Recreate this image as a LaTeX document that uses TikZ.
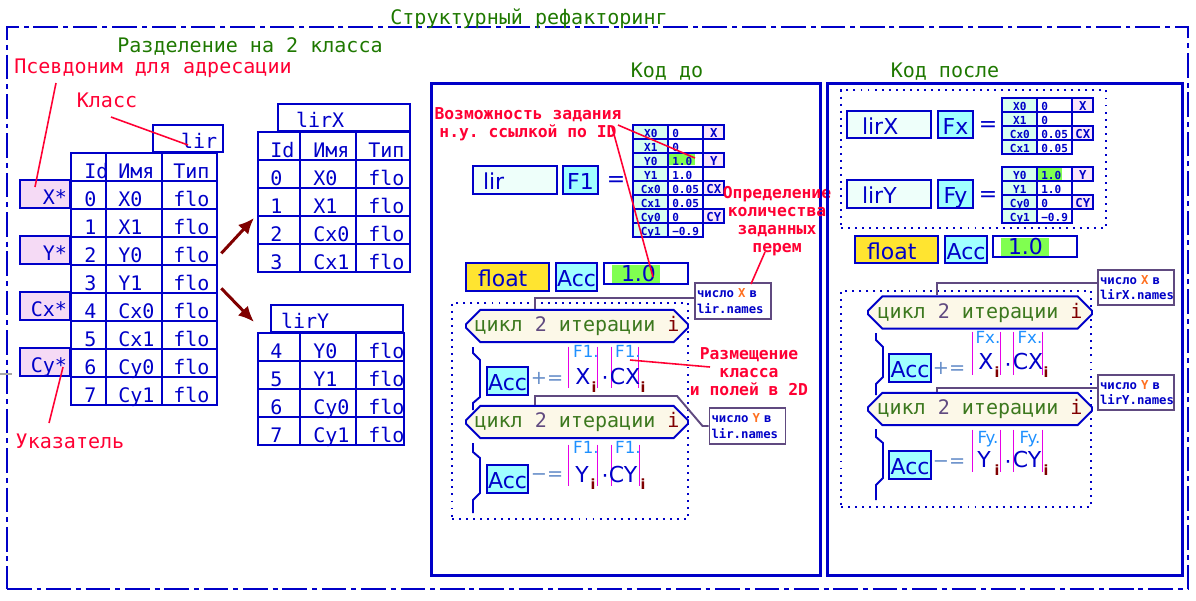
\documentclass[tikz,border=0pt]{standalone}
\usepackage{fontspec}
\setmainfont{DejaVu Sans}
\setmonofont{DejaVu Sans Mono}
\usepackage{xcolor}
\usepackage{tikz}
\usetikzlibrary{arrows.meta, matrix, fit, shapes.misc}

\definecolor{kblue}{RGB}{0,0,200}
\definecolor{kgreen}{RGB}{30,120,0}
\definecolor{kloop}{RGB}{60,120,30}
\definecolor{kred}{RGB}{255,0,51}
\definecolor{kdarkred}{RGB}{128,0,0}
\definecolor{kpink}{RGB}{245,218,245}
\definecolor{klabel}{RGB}{250,230,250}
\definecolor{kcyan}{RGB}{160,255,255}
\definecolor{klight}{RGB}{238,255,250}
\definecolor{kcol}{RGB}{215,255,240}
\definecolor{kyellow}{RGB}{255,228,48}
\definecolor{kgrfill}{RGB}{128,255,80}
\definecolor{kcream}{RGB}{252,248,232}
\definecolor{kpurple}{RGB}{96,74,128}
\definecolor{korange}{RGB}{255,112,32}
\definecolor{kfield}{RGB}{30,144,255}
\definecolor{kbar}{RGB}{230,0,230}
\definecolor{kop}{RGB}{100,140,200}

\newcommand{\hdfont}{\ttfamily\fontsize{11.4}{13}\selectfont}
\newcommand{\notefont}{\ttfamily\bfseries\fontsize{9.3}{10.2}\selectfont}
\newcommand{\boxfont}{\rmfamily\fontsize{12.5}{14}\selectfont}
\newcommand{\fieldfont}{\rmfamily\fontsize{9.5}{11}\selectfont}
\newcommand{\cellfont}{\ttfamily\bfseries\fontsize{6.3}{7}\selectfont}
\newcommand{\callfont}{\ttfamily\bfseries\fontsize{7}{9}\selectfont}
\newcommand{\looptext}{\textcolor{kloop}{цикл} \textcolor{kpurple}{2} \textcolor{kloop}{итерации} \textcolor{kdarkred}{i}}

\begin{document}
\begin{tikzpicture}[
    % GLOBAL CFG
    x=0.02cm, y=-0.02cm,
    font=\hdfont,
    >={Latex[length=9pt, width=8pt]},
    wd/.style={minimum width=#1*0.02cm},
    ht/.style={minimum height=#1*0.02cm},
    tw/.style={text width=#1*0.02cm},
    % Styles
    frame/.style={% For the outer dash-dot frame
        rectangle, draw=kblue, line width=1.1pt, inner sep=0pt,
        dash pattern=on 14pt off 2.8pt on 2.8pt off 2.8pt,
        },
    panel/.style={% For the two code panels
        rectangle, draw=kblue, line width=1.7pt, inner sep=0pt,
        },
    group/.style={% For the dotted program blocks
        rectangle, draw=kblue, line width=1.1pt, inner sep=0pt,
        dash pattern=on 1.1pt off 2.9pt,
        },
    heading/.style={% For green titles
        anchor=base, text=kgreen, inner sep=0pt,
        },
    note/.style={% For red remarks
        text=kred, inner sep=0pt, align=center,
        },
    redline/.style={draw=kred, line width=0.9pt},
    box/.style={% For variables and values
        rectangle, draw=kblue, line width=1.1pt, inner sep=0pt, outer sep=0pt,
        text=kblue, font=\boxfont, text height=11pt, text depth=0pt, ht=28,
        },
    ptr/.style={% For pointer cells
        box, fill=kpink, wd=50, tw=44, align=right, font=\hdfont,
        text height=12.5pt,
        },
    tab/.style={% For the tables of fields
        matrix of nodes, anchor=north west, inner sep=0pt,
        row sep=-1.1pt, column sep=-1.1pt,
        nodes={rectangle, draw=kblue, line width=1.1pt, inner sep=0pt, outer sep=0pt,
            text=kblue, ht=28, text height=12.5pt, text depth=0pt, align=left},
        },
    init/.style={% For the initial values
        matrix of nodes, anchor=north west, inner sep=0pt, font=\cellfont,
        row sep=-1.1pt, column sep=-1.1pt,
        nodes={rectangle, draw=kblue, line width=1.1pt, inner sep=0pt, outer sep=0pt,
            text=kblue, ht=14, text height=5.7pt, text depth=0pt, align=left},
        column 1/.style={nodes={wd=35, tw=31, fill=kcol, align=center}},
        column 2/.style={nodes={wd=35, tw=27}},
        column 3/.style={nodes={wd=21, tw=19, fill=klabel, align=center,
            font=\ttfamily\bfseries\fontsize{7}{8}\selectfont}},
        },
    loop/.style={% For loop headers
        chamfered rectangle, chamfered rectangle xsep=4.5pt,
        draw=kblue, line width=1.1pt, fill=kcream, inner sep=0pt, ht=28,
        },
    brace/.style={draw=kblue, line width=1.1pt},
    callout/.style={% For remarks about names
        rectangle, draw=kpurple, line width=1.1pt, fill=white, inner sep=0pt,
        text=kblue, font=\callfont, align=left, wd=76, ht=36, tw=72,
        },
    leader/.style={draw=kpurple, line width=1.1pt},
    absv/.style={rectangle, inner sep=0pt},
    bar/.style={draw=kbar, line width=0.6pt},
    field/.style={anchor=base, inner sep=0pt, text=kfield, font=\fieldfont},
    var/.style={anchor=base, inner sep=0pt, text=kblue, font=\boxfont},
    idx/.style={anchor=base, inner sep=0pt, text=kdarkred,
        font=\rmfamily\bfseries\fontsize{8}{9}\selectfont},
    op/.style={inner sep=0pt, text=kop, font=\rmfamily\fontsize{11}{12}\selectfont},
    split/.style={draw=kdarkred, line width=1.7pt, ->},
    ]
\useasboundingbox (0,0) rectangle (1196,600);

% Frame and titles
\node [frame, fit={(7,27) (1188,589)}] (outer) {};
\node [heading] (title) at (529,24) {Структурный рефакторинг};
\node [heading] (hsplit) at (250,52) {Разделение на 2 класса};
\node [heading] (hbefore) at (667,77) {Код до};
\node [heading] (hafter) at (945,77) {Код после};
\draw [gray!70, line width=0.6pt] (0,374) -- (12,374); % tick on the frame

% Left part: one class split in two
\node [note, anchor=base] (nalias) at (153,73) {Псевдоним для адресации};
\node [note, anchor=base] (nclass) at (107,107) {Класс};
\node [note, anchor=base] (nptr) at (70,448) {Указатель};

\node [box, wd=70, ht=27, tw=14, align=left, font=\hdfont] (lirName) at (188,138.5) {lir};
\matrix [tab, column 1/.style={nodes={wd=35, tw=9}}, column 2/.style={nodes={wd=56, tw=32}},
    column 3/.style={nodes={wd=55, tw=33}}] (tabLir) at (70,152) {
    Id & Имя & Тип \\
    0 & X0 & flo \\
    1 & X1 & flo \\
    2 & Y0 & flo \\
    3 & Y1 & flo \\
    4 & Cx0 & flo \\
    5 & Cx1 & flo \\
    6 & Cy0 & flo \\
    7 & Cy1 & flo \\
};
\node [ptr] (pX) at (45,194) {X*};
\node [ptr] (pY) at (45,250) {Y*};
\node [ptr] (pCx) at (45,306) {Cx*};
\node [ptr] (pCy) at (45,362) {Cy*};

\coordinate (aliasA) at (56,83);
\coordinate (aliasB) at (35,187);
\coordinate (classA) at (111,117);
\coordinate (classB) at (188,145);
\coordinate (ptrA) at (49,423);
\coordinate (ptrB) at (63,367);
\draw [redline] (aliasA) -- (aliasB);
\draw [redline] (classA) -- (classB);
\draw [redline] (ptrA) -- (ptrB);

% the two new classes
\node [box, wd=132, ht=27, tw=96, align=left, font=\hdfont] (lirXName) at (344,117.5) {lirX};
\matrix [tab, column 1/.style={nodes={wd=42, tw=18}}, column 2/.style={nodes={wd=56, tw=30}},
    column 3/.style={nodes={wd=54, tw=30}}] (tabX) at (257,131) {
    Id & Имя & Тип \\
    0 & X0 & flo \\
    1 & X1 & flo \\
    2 & Cx0 & flo \\
    3 & Cx1 & flo \\
};
\node [box, wd=132, ht=27, tw=112, align=left, font=\hdfont] (lirYName) at (337,318.5) {lirY};
\matrix [tab, column 1/.style={nodes={wd=42, tw=18}}, column 2/.style={nodes={wd=56, tw=30}},
    column 3/.style={nodes={wd=48, tw=24}}] (tabY) at (257,332) {
    4 & Y0 & flo \\
    5 & Y1 & flo \\
    6 & Cy0 & flo \\
    7 & Cy1 & flo \\
};
\coordinate (toX) at (254,218);
\coordinate (toY) at (254,322);
\draw [split] (tabLir-4-3.east) ++(4,2) -- (toX);
\draw [split] (tabLir-5-3.east) ++(4,9) -- (toY);

% Code before
\node [panel, fit={(431,83) (820,575)}] (before) {};
\node [note, font=\notefont] (nid) at (528,124) {Возможность задания\\н.у. ссылкой по ID};
\node [box, wd=84, fill=klight, tw=64, align=left] (lirB) at (515,180) {lir};
\node [box, wd=35, fill=kcyan] (F1) at (580.5,180) {F1};
\node [var, anchor=center] (eqB) at (616,182) {=};
\fill [kgrfill] (668,153) rectangle (695,165);
\matrix [init] (initB) at (632,124) {
    X0 & 0 & X \\
    X1 & 0 & \\
    Y0 & 1.0 & Y \\
    Y1 & 1.0 & \\
    Cx0 & 0.05 & CX \\
    Cx1 & 0.05 & \\
    Cy0 & 0 & CY \\
    Cy1 & −0.9 & \\
};
\node [note, font=\notefont] (ncount) at (777,221) {Определение\\количества\\заданных\\перем};

\node [box, wd=83, fill=kyellow, tw=59, align=left] (floatB) at (507.5,277) {float};
\node [box, wd=41, fill=kcyan] (accB) at (576.5,277) {Acc};
\fill [kgrfill] (612,265) rectangle (660,283);
\node [box, wd=84, ht=21, tw=50, align=left, text height=9.5pt] (valB) at (646,273.5) {1.0};

\coordinate (idA) at (618,125);
\coordinate (idB) at (695,158);
\coordinate (idC) at (612,127);
\coordinate (idD) at (653,277);
\draw [redline] (idA) -- (idB);
\draw [redline] (idC) -- (idD);

\node [callout] (cntXB) at (733,301) {число \textcolor{korange}{X} в\\lir.names};
\coordinate (cntA) at (765,252);
\coordinate (cntB) at (751,284);
\draw [redline] (cntA) -- (cntB);

\node [group, fit={(452,303) (688,519)}] (prgB) {};
\node [loop, wd=222] (loopB1) at (577,326) {\looptext};
\coordinate (lkB1) at (535,298);
\draw [leader] (cntXB.west |- lkB1) -- (lkB1) -- (lkB1 |- loopB1.north);

\draw [brace] (473,347) -- (473,353) -- (480,360) -- (480,397) -- (473,403) -- (473,410);
\node [box, wd=41, fill=kcyan] (accB1) at (507.5,381) {Acc};
\node [op] (addB) at (547,378) {+=};
\node [absv, fit={(569,347) (597,388)}] (xB) {};
\draw [bar] (xB.north west) -- (xB.south west) (xB.north east) -- (xB.south east);
\node [field] (fxB) at (586,357) {F1.};
\node [var] (vxB) at (583,384) {X};
\node [idx] (ixB) at (594,392) {i};
\node [var, anchor=center] (dotB1) at (605,381) {·};
\node [absv, fit={(612,347) (638,388)}] (cxB) {};
\draw [bar] (cxB.north west) -- (cxB.south west) (cxB.north east) -- (cxB.south east);
\node [field] (fcxB) at (628,357) {F1.};
\node [var] (vcxB) at (625,384) {CX};
\node [idx] (icxB) at (643,392) {i};

\node [note, font=\notefont] (nplace) at (749,372) {Размещение\\класса\\и полей в 2D};
\coordinate (plA) at (630,360);
\coordinate (plB) at (710,367);
\draw [redline] (plA) -- (plB);

\node [callout] (cntYB) at (747.5,426) {число \textcolor{korange}{Y} в\\lir.names};
\node [loop, wd=222] (loopB2) at (577,422) {\looptext};
\coordinate (lkB2) at (677,396);
\coordinate (lkB3) at (535,396);
\draw [leader] (cntYB.west) -- ++(-6,0) -- (lkB2) -- (lkB3) -- (lkB3 |- loopB2.north);

\draw [brace] (473,443) -- (473,452) -- (480,458) -- (480,493) -- (473,500) -- (473,513);
\node [box, wd=41, fill=kcyan] (accB2) at (507.5,479) {Acc};
\node [op] (subB) at (547,476) {−=};
\node [absv, fit={(569,445) (597,486)}] (yB) {};
\draw [bar] (yB.north west) -- (yB.south west) (yB.north east) -- (yB.south east);
\node [field] (fyB) at (586,453) {F1.};
\node [var] (vyB) at (582,482) {Y};
\node [idx] (iyB) at (593,489) {i};
\node [var, anchor=center] (dotB2) at (605,479) {·};
\node [absv, fit={(612,445) (639,486)}] (cyB) {};
\draw [bar] (cyB.north west) -- (cyB.south west) (cyB.north east) -- (cyB.south east);
\node [field] (fcyB) at (628,453) {F1.};
\node [var] (vcyB) at (623,482) {CY};
\node [idx] (icyB) at (643,489) {i};

% Code after
\node [panel, fit={(827,83) (1182,575)}] (after) {};
\node [group, fit={(841,90) (1106,228)}] (decl) {};
\node [box, wd=84, ht=27, fill=klight, tw=54, align=left] (lirXA) at (889,124.5) {lirX};
\node [box, wd=35, ht=27, fill=kcyan] (Fx) at (955.5,124.5) {Fx};
\node [var, anchor=center] (eqX) at (988,127) {=};
\matrix [init] (initX) at (1001,97) {
    X0 & 0 & X \\
    X1 & 0 & \\
    Cx0 & 0.05 & CX \\
    Cx1 & 0.05 & \\
};
\node [box, wd=84, fill=klight, tw=54, align=left] (lirYA) at (889,194) {lirY};
\node [box, wd=35, fill=kcyan] (Fy) at (955.5,194) {Fy};
\node [var, anchor=center] (eqY) at (988,197) {=};
\fill [kgrfill] (1037,167) rectangle (1062,180);
\matrix [init] (initY) at (1001,166) {
    Y0 & 1.0 & Y \\
    Y1 & 1.0 & \\
    Cy0 & 0 & CY \\
    Cy1 & −0.9 & \\
};

\node [box, wd=83, ht=27, fill=kyellow, tw=59, align=left] (floatA) at (896.5,249.5) {float};
\node [box, wd=42, ht=27, fill=kcyan] (accA) at (966,249.5) {Acc};
\fill [kgrfill] (1001,238) rectangle (1049,256);
\node [box, wd=84, ht=21, tw=54, align=left, text height=9.5pt] (valA) at (1035,246.5) {1.0};

\node [callout, ht=35] (cntXA) at (1136,287.5) {число \textcolor{korange}{X} в\\lirX.names};
\node [group, fit={(841,291) (1091,507)}] (prgA) {};
\node [loop, wd=224, ht=29] (loopA1) at (980,312.5) {\looptext};
\coordinate (lkA1) at (937,283);
\draw [leader] (cntXA.west |- lkA1) -- (lkA1) -- (lkA1 |- loopA1.north);

\draw [brace] (876,333) -- (876,340) -- (883,347) -- (883,377) -- (876,384) -- (876,395);
\node [box, wd=42, fill=kcyan] (accA1) at (910,368) {Acc};
\node [op] (addA) at (949,368) {+=};
\node [absv, fit={(973,332) (1000,375)}] (xA) {};
\draw [bar] (xA.north west) -- (xA.south west) (xA.north east) -- (xA.south east);
\node [field] (fxA) at (988,343) {Fx.};
\node [var] (vxA) at (986,369) {X};
\node [idx] (ixA) at (997,377) {i};
\node [var, anchor=center] (dotA1) at (1008,368) {·};
\node [absv, fit={(1014,332) (1042,375)}] (cxA) {};
\draw [bar] (cxA.north west) -- (cxA.south west) (cxA.north east) -- (cxA.south east);
\node [field] (fcxA) at (1030,343) {Fx.};
\node [var] (vcxA) at (1028,369) {CX};
\node [idx] (icxA) at (1046,377) {i};

\node [callout, ht=35] (cntYA) at (1136,392.5) {число \textcolor{korange}{Y} в\\lirY.names};
\node [loop, wd=224] (loopA2) at (980,409) {\looptext};
\coordinate (lkA2) at (937,388);
\draw [leader] (cntYA.west |- lkA2) -- (lkA2) -- (lkA2 |- loopA2.north);

\draw [brace] (876,429) -- (876,437) -- (883,443) -- (883,478) -- (876,485) -- (876,500);
\node [box, wd=42, fill=kcyan] (accA2) at (910,465) {Acc};
\node [op] (subA) at (949,463) {−=};
\node [absv, fit={(973,430) (1000,472)}] (yA) {};
\draw [bar] (yA.north west) -- (yA.south west) (yA.north east) -- (yA.south east);
\node [field] (fyA) at (988,443) {Fy.};
\node [var] (vyA) at (984,467) {Y};
\node [idx] (iyA) at (997,475) {i};
\node [var, anchor=center] (dotA2) at (1008,465) {·};
\node [absv, fit={(1014,430) (1042,472)}] (cyA) {};
\draw [bar] (cyA.north west) -- (cyA.south west) (cyA.north east) -- (cyA.south east);
\node [field] (fcyA) at (1030,443) {Fy.};
\node [var] (vcyA) at (1027,467) {CY};
\node [idx] (icyA) at (1046,475) {i};

\end{tikzpicture}
\end{document}
